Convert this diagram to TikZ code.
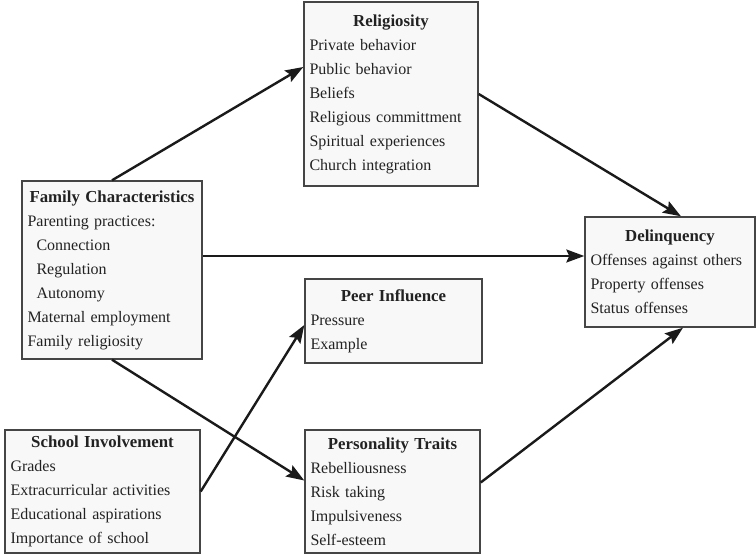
\documentclass[tikz,border=0pt]{standalone}
\usepackage{fontspec}
\setmainfont{Liberation Serif}
\usetikzlibrary{arrows.meta}

\definecolor{boxline}{HTML}{454545}
\definecolor{boxfill}{HTML}{F8F8F8}
\definecolor{boxtext}{HTML}{222222}
\definecolor{arrowline}{HTML}{1A1A1A}

\newcommand{\boxhead}[1]{{\centering\fontsize{16.8}{24}\selectfont\bfseries #1\par}}
\newcommand{\ind}{\hspace*{9pt}}

\begin{document}
\begin{tikzpicture}[x=1pt,y=-1pt,
  box/.style={draw=boxline,line width=1.4pt,fill=boxfill,text=boxtext,inner xsep=5.5pt,inner ysep=0pt,align=left,font=\fontsize{16}{24}\selectfont},
  arr/.style={-{Stealth[length=18pt,width=13pt,inset=3pt]},line width=2.4pt,draw=arrowline}]
\useasboundingbox (0,0) rectangle (756,554);

% The boxes
\node (relig) at (391,94) [box,text width=163pt,minimum height=184pt] {\boxhead{Religiosity}Private behavior\\Public behavior\\Beliefs\\Religious committment\\Spiritual experiences\\Church integration};
\node (family) at (112,270) [box,text width=169pt,minimum height=178pt] {\boxhead{Family Characteristics}Parenting practices:\\\ind Connection\\\ind Regulation\\\ind Autonomy\\Maternal employment\\Family religiosity};
\node (delinq) at (670,272) [box,text width=159pt,minimum height=110pt] {\boxhead{Delinquency}Offenses against others\\Property offenses\\Status offenses};
\node (peer) at (393.5,321) [box,text width=166pt,minimum height=84pt] {\boxhead{Peer Influence}Pressure\\Example};
\node (school) at (102.5,491.5) [box,text width=184pt,minimum height=123pt] {\boxhead{School Involvement}Grades\\Extracurricular activities\\Educational aspirations\\Importance of school};
\node (person) at (392.5,491.5) [box,text width=164pt,minimum height=123pt] {\boxhead{Personality Traits}Rebelliousness\\Risk taking\\Impulsiveness\\Self-esteem};

% paths into delinquency
\draw[arr] (family.north) -- ([yshift=27pt]relig.west);
\draw[arr] (relig.east) -- ([xshift=11pt]delinq.north);
\draw[arr] ([yshift=14pt]family.east) -- ([yshift=14pt]family.east -| delinq.west);
\draw[arr] (family.south) -- ([yshift=11pt]person.west);
\draw[arr] (school.east) -- ([yshift=-4pt]peer.west);
\draw[arr] ([yshift=9pt]person.east) -- ([xshift=13pt]delinq.south);

\end{tikzpicture}
\end{document}
